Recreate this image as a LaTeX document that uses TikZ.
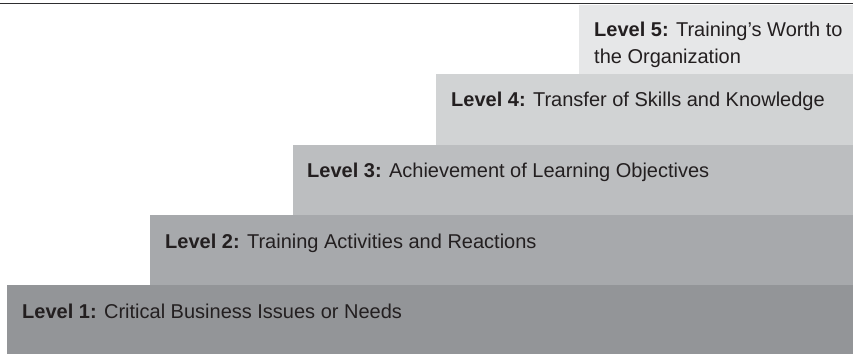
\documentclass[tikz,border=0pt]{standalone}
\usepackage{fontspec}
\setmainfont{Liberation Sans}
\definecolor{g5}{HTML}{E6E7E8}
\definecolor{g4}{HTML}{D1D3D4}
\definecolor{g3}{HTML}{BCBEC0}
\definecolor{g2}{HTML}{A7A9AC}
\definecolor{g1}{HTML}{939598}
\definecolor{txt}{HTML}{231F20}
\definecolor{rule}{HTML}{2E2E30}
\begin{document}
\begin{tikzpicture}[x=1pt,y=1pt,
  step box/.style={draw=none,inner sep=0pt,outer sep=0pt,anchor=south west},
  lvl/.style={anchor=base west,inner sep=0pt,text=txt,font=\fontsize{20}{27}\selectfont,align=left}]
\useasboundingbox (0,0) rectangle (853,354);
\node[step box,fill=g1,minimum width=846pt,minimum height=69pt] (l1) at (7,0) {};
\node[step box,fill=g2,minimum width=703pt,minimum height=70pt] (l2) at (150,69) {};
\node[step box,fill=g3,minimum width=560pt,minimum height=70pt] (l3) at (293,139) {};
\node[step box,fill=g4,minimum width=417pt,minimum height=71pt] (l4) at (436,209) {};
\node[step box,fill=g5,minimum width=274pt,minimum height=69pt] (l5) at (579,280) {};
\coordinate (r0) at (0,350.3);
\coordinate (r1) at (853,350.3);
\draw[rule,line width=1.6pt] (r0) -- (r1);
\node[lvl] (t1) at (22,36) {\textbf{Level 1:} Critical Business Issues or Needs};
\node[lvl] (t2) at (165,106) {\textbf{Level 2:} Training Activities and Reactions};
\node[lvl] (t3) at (307,176.5) {\textbf{Level 3:} Achievement of Learning Objectives};
\node[lvl] (t4) at (451,247.3) {\textbf{Level 4:} Transfer of Skills and Knowledge};
\node[lvl,anchor=north west] (t5) at (594,332) {\textbf{Level 5:} Training’s Worth to\\the Organization};
\end{tikzpicture}
\end{document}
